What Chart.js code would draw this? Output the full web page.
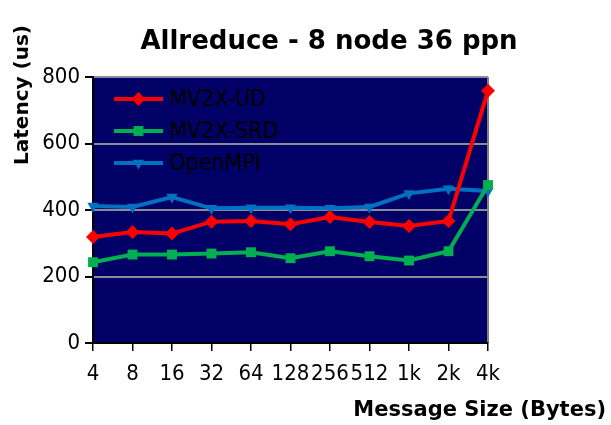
<!DOCTYPE html>
<html>
<head>
<meta charset="utf-8">
<script src="https://cdn.jsdelivr.net/npm/chart.js@4/dist/chart.umd.min.js"></script>
<style>
  html, body { margin: 0; padding: 0; background: #ffffff; }
  #wrap { width: 611px; height: 425px; }
</style>
</head>
<body>
<div id="wrap"><canvas id="c" width="611" height="425"></canvas></div>
<script>
// Message sizes on the x axis
const sizes = ['4', '8', '16', '32', '64', '128', '256', '512', '1k', '2k', '4k'];

// Allreduce latency (us) per library
const mv2xUD  = [319, 334, 329, 365, 367, 357, 379, 364, 352, 367, 759];
const mv2xSRD = [243, 266, 266, 269, 273, 255, 276, 261, 248, 276, 475];
const openMPI = [412, 409, 439, 405, 407, 407, 405, 409, 450, 464, 457];

// Y axis ticks
const yTicks = [0, 200, 400, 600, 800];

const titleText = 'Allreduce - 8 node 36 ppn';
const yTitle = 'Latency (us)';
const xTitle = 'Message Size (Bytes)';

const FONT = '"DejaVu Sans", Verdana, sans-serif';
const FONT_NARROW = '"DejaVu Sans Condensed", "DejaVu Sans", sans-serif';

const series = [
  { label: 'MV2X-UD',  data: mv2xUD,  color: '#ff0000', pointStyle: 'rectRot',  radius: 7, rotation: 0 },
  { label: 'MV2X-SRD', data: mv2xSRD, color: '#00b050', pointStyle: 'rect',     radius: 7, rotation: 0 },
  { label: 'OpenMPI',  data: openMPI, color: '#0070c0', pointStyle: 'triangle', radius: 6.5, rotation: 180 }
];

// Navy plot background with a grey frame on the right
const plotFrame = {
  id: 'plotFrame',
  beforeDraw(chart) {
    const { ctx, chartArea: a } = chart;
    ctx.save();
    ctx.fillStyle = '#000066';
    ctx.fillRect(a.left, a.top, a.right - a.left, a.bottom - a.top);
    ctx.strokeStyle = '#808080';
    ctx.lineWidth = 2;
    ctx.beginPath();
    ctx.moveTo(a.right, a.top);
    ctx.lineTo(a.right, a.bottom);
    ctx.stroke();
    ctx.restore();
  }
};

// Titles and the in-plot legend
const annotations = {
  id: 'annotations',
  afterDraw(chart) {
    const { ctx, chartArea: a } = chart;
    ctx.save();
    ctx.fillStyle = '#000000';
    ctx.textBaseline = 'middle';

    ctx.font = 'bold 26px ' + FONT;
    ctx.textAlign = 'center';
    ctx.fillText(titleText, 329, 42);

    ctx.font = 'bold 21px ' + FONT;
    ctx.textAlign = 'right';
    ctx.fillText(xTitle, 606, 411);

    ctx.save();
    ctx.translate(23, 95);
    ctx.rotate(-Math.PI / 2);
    ctx.textAlign = 'center';
    ctx.font = 'bold 20px ' + FONT;
    ctx.fillText(yTitle, 0, 0);
    ctx.restore();

    // legend
    const x0 = a.left + 21, x1 = a.left + 70, tx = a.left + 76;
    chart.data.datasets.forEach((ds, i) => {
      const y = a.top + 22 + i * 32;
      ctx.strokeStyle = ds.borderColor;
      ctx.lineWidth = 4;
      ctx.beginPath();
      ctx.moveTo(x0, y);
      ctx.lineTo(x1, y);
      ctx.stroke();
      ctx.fillStyle = ds.pointBackgroundColor;
      Chart.helpers.drawPoint(ctx, {
        pointStyle: ds.pointStyle,
        radius: ds.pointRadius,
        rotation: ds.pointRotation,
        borderWidth: 0
      }, (x0 + x1) / 2, y);
      ctx.fillStyle = '#000000';
      ctx.font = '23px ' + FONT_NARROW;
      ctx.textAlign = 'left';
      ctx.fillText(ds.label, tx, y + 1);
    });
    ctx.restore();
  }
};

new Chart(document.getElementById('c'), {
  type: 'line',
  data: {
    labels: sizes,
    datasets: series.map(s => ({
      label: s.label,
      data: s.data,
      borderColor: s.color,
      backgroundColor: s.color,
      pointBackgroundColor: s.color,
      pointBorderColor: s.color,
      pointBorderWidth: 0,
      pointStyle: s.pointStyle,
      pointRadius: s.radius,
      pointRotation: s.rotation,
      borderWidth: 4,
      tension: 0,
      fill: false
    }))
  },
  options: {
    responsive: false,
    animation: false,
    layout: { padding: { left: 0, right: 123, top: 77, bottom: 0 } },
    plugins: {
      legend: { display: false },
      title: { display: false },
      tooltip: { enabled: false }
    },
    scales: {
      x: {
        offset: false,
        grid: { drawOnChartArea: false, tickColor: '#000000', tickLength: 8, lineWidth: 1.5 },
        border: { color: '#000000', width: 2 },
        ticks: { color: '#000000', font: { family: FONT_NARROW, size: 22 }, maxRotation: 0, autoSkip: false, padding: 10 },
        afterFit(scale) { scale.height = 82; }
      },
      y: {
        min: 0,
        max: 800,
        afterBuildTicks(scale) { scale.ticks = yTicks.map(v => ({ value: v })); },
        grid: { color: '#8a8a9a', lineWidth: 2, tickColor: '#000000', tickLength: 8 },
        border: { color: '#000000', width: 2 },
        ticks: { color: '#000000', font: { family: FONT_NARROW, size: 22 }, padding: 5 },
        afterFit(scale) { scale.width = 93; }
      }
    }
  },
  plugins: [plotFrame, annotations]
});
</script>
</body>
</html>
